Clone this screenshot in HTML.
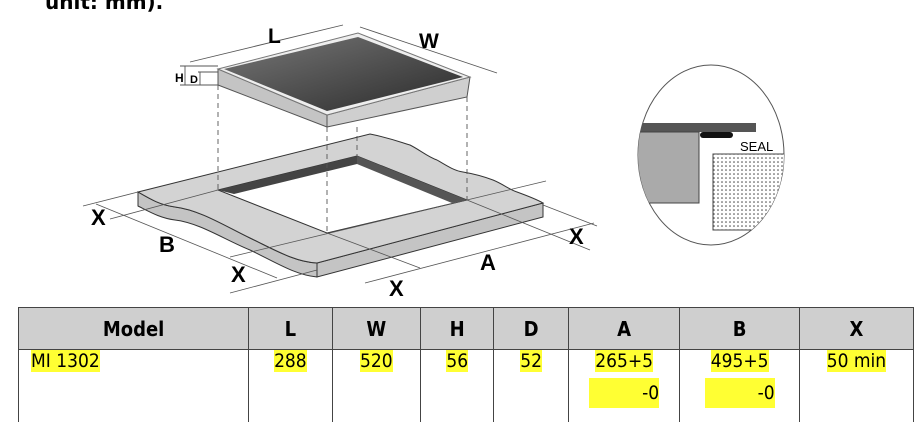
<!DOCTYPE html>
<html><head><meta charset="utf-8"><style>
html,body{margin:0;padding:0;background:#fff;width:914px;height:422px;overflow:hidden;position:relative;font-family:"DejaVu Sans","Liberation Sans",sans-serif}
.t{position:absolute;left:18px;top:307px;border-collapse:collapse;font-size:19px;font-family:"DejaVu Sans Condensed","DejaVu Sans",sans-serif}
.t td{border:1px solid #444;padding:0;vertical-align:top}
.t th{background:#cfcfcf;border:1px solid #444;height:39px;font-weight:bold;font-size:20px}
.h{background:#ffff33}
</style></head><body>
<div style="position:absolute;left:45px;top:-10px;font-weight:bold;font-size:20px">unit: mm).</div>
<svg width="914" height="300" style="position:absolute;left:0;top:0" font-family="Liberation Sans Narrow, Liberation Sans, sans-serif" font-weight="bold">
<defs><linearGradient id="g" x1="0" y1="0" x2="1" y2="1"><stop offset="0" stop-color="#777"/><stop offset="1" stop-color="#2a2a2a"/></linearGradient>
<pattern id="dots" width="4" height="4" patternUnits="userSpaceOnUse"><rect width="4" height="4" fill="#fff"/><circle cx="2" cy="2" r="0.8" fill="#444"/></pattern></defs>
<!-- countertop side walls -->
<path d="M138,192 L138,206 C150,212 160,218 175,220 C200,223 225,240 250,250 C275,262 295,275 317,277 L317,263 C295,262 275,250 250,238 C225,226 200,210 175,207 C160,205 150,199 138,192 Z" fill="#c4c4c4" stroke="#333"/>
<path d="M317,263 L543,203 L543,217 L317,277 Z" fill="#c4c4c4" stroke="#333"/>
<!-- top face with hole -->
<path fill-rule="evenodd" d="M138,192 L370,134 C390,138 400,142 410,145 C420,150 428,157 437,160 C447,166 455,171 463,172 C475,174 485,177 493,180 C503,184 510,190 517,192 C528,196 536,199 543,203 L317,263 C295,262 275,250 250,238 C225,226 200,210 175,207 C160,205 150,199 138,192 Z M218,190 L357,156 L467,200 L327,233 Z" fill="#d3d3d3" stroke="#333"/>
<path d="M218,190 L357,156 L357,164 L234,194 Z" fill="#444"/>
<path d="M357,156 L467,200 L452,203 L357,164 Z" fill="#555"/>
<g stroke="#555" stroke-width="0.8" fill="none">
<line x1="110" y1="219" x2="218" y2="190"/>
<line x1="230" y1="257" x2="546" y2="181"/>
<line x1="327" y1="233" x2="420" y2="268"/>
<line x1="467" y1="200" x2="590" y2="250"/>
<line x1="83" y1="206" x2="138" y2="192"/>
<line x1="96" y1="204" x2="277" y2="278"/>
<line x1="230" y1="293" x2="317" y2="270"/>
<line x1="365" y1="283" x2="594" y2="223"/>
<line x1="543" y1="205" x2="597" y2="226"/>
</g>
<g stroke="#555" stroke-dasharray="5,4" stroke-width="0.9">
<line x1="218" y1="85" x2="218" y2="190"/><line x1="327" y1="127" x2="327" y2="233"/>
<line x1="357" y1="127" x2="357" y2="156"/><line x1="467" y1="97" x2="467" y2="200"/>
</g>
<!-- cooktop -->
<polygon points="218,69 327,115 327,127 218,85" fill="#c4c4c4" stroke="#555"/>
<polygon points="327,115 470,77 467,97 327,127" fill="#cfcfcf" stroke="#555"/>
<polygon points="218,69 358,33 470,77 327,115" fill="#eee" stroke="#777"/>
<polygon points="224,69 358,37 463,77 327,111" fill="url(#g)"/>
<g stroke="#555" stroke-width="0.9">
<line x1="190" y1="62" x2="343" y2="25"/><line x1="360" y1="27" x2="497" y2="73"/>
<line x1="180" y1="66" x2="218" y2="66"/><line x1="180" y1="85" x2="218" y2="85"/>
<line x1="185" y1="66" x2="185" y2="85"/><line x1="198" y1="72" x2="218" y2="72"/><line x1="200" y1="72" x2="200" y2="85"/>
</g>
<text x="268" y="43" font-size="21">L</text><text x="419" y="48" font-size="21">W</text>
<text x="175" y="82" font-size="12">H</text><text x="190" y="83" font-size="11">D</text>
<text x="91" y="225" font-size="22">X</text><text x="159" y="252" font-size="22">B</text>
<text x="231" y="282" font-size="22">X</text><text x="389" y="296" font-size="22">X</text>
<text x="480" y="270" font-size="22">A</text><text x="569" y="244" font-size="22">X</text>
<!-- detail -->
<ellipse cx="711" cy="155" rx="73" ry="90" fill="#fff" stroke="#555"/>
<clipPath id="c"><ellipse cx="711" cy="155" rx="73" ry="90"/></clipPath>
<g clip-path="url(#c)">
<rect x="630" y="123" width="126" height="9" fill="#555"/>
<rect x="630" y="132" width="69" height="71" fill="#aaa" stroke="#444"/>
<rect x="713" y="154" width="80" height="76" fill="url(#dots)" stroke="#444"/>
</g>
<rect x="700" y="132" width="33" height="6" rx="3" fill="#111"/>
<text x="740" y="151" font-size="13" font-weight="normal" font-family="Liberation Sans">SEAL</text>
</svg>
<table class="t">
<tr><th style="width:229px">Model</th><th style="width:81px">L</th><th style="width:86px">W</th><th style="width:71px">H</th><th style="width:72px">D</th><th style="width:109px">A</th><th style="width:117px">B</th><th style="width:112px">X</th></tr>
<tr style="height:74px"><td style="padding-left:12px"><span class="h">MI 1302</span></td>
<td style="text-align:center"><span class="h">288</span></td>
<td style="text-align:center"><span class="h">520</span></td>
<td style="text-align:center"><span class="h">56</span></td>
<td style="text-align:center"><span class="h">52</span></td>
<td style="text-align:center"><span class="h">265+5</span><br><span class="h" style="display:inline-block;width:70px;text-align:right;margin-top:6px;line-height:30px">-0</span></td>
<td style="text-align:center"><span class="h">495+5</span><br><span class="h" style="display:inline-block;width:70px;text-align:right;margin-top:6px;line-height:30px">-0</span></td>
<td style="text-align:center"><span class="h">50 min</span></td></tr>
</table>
</body></html>
